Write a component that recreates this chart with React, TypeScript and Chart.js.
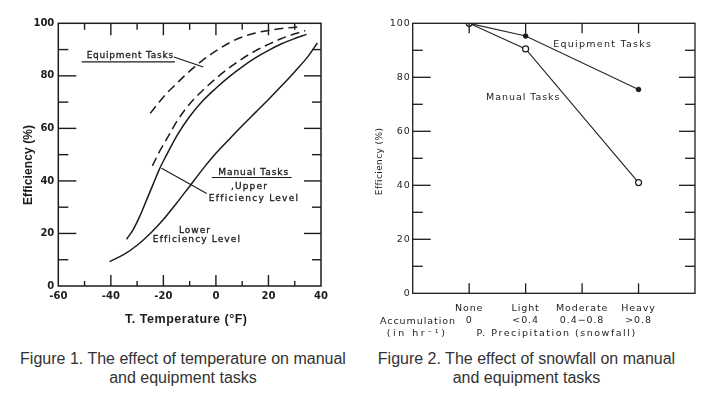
import React, { useEffect, useRef } from "react";
import { Chart, registerables } from "chart.js";

Chart.register(...registerables);

const INK = "#1c1c1c";

// ---------- Figure 1: efficiency vs temperature ----------
const tempTickLabels = [-60, -40, -20, 0, 20, 40];
const effTickLabels = [0, 20, 40, 60, 80, 100];

const lowerLevelTemp = [-40.5, -35, -30, -25, -20, -15, -10, -5, 0, 5, 10, 15, 20, 25, 30, 35, 38.6];
const lowerLevelEff = [9.3, 12, 15.5, 20, 25.3, 31.5, 38, 44.5, 50.5, 55.8, 61, 66, 71, 76.2, 81.6, 87.3, 92.5];

const upperLevelTemp = [-34, -31.5, -29, -26.5, -24, -21.5, -19, -15, -10, -5, 0, 5, 10, 15, 20, 25, 30, 34.5];
const upperLevelEff = [17.8, 21.5, 26.5, 32.5, 38.5, 44.5, 49.5, 57, 64.5, 70.5, 75.3, 79.6, 83.4, 86.8, 89.7, 92.2, 94.2, 95.8];

const equipLowTemp = [-24.2, -21.3, -18, -15, -10, -5, 0, 5, 10, 15, 20, 25, 30, 34];
const equipLowEff = [45.7, 51.5, 57.2, 62.5, 69.3, 74.5, 79, 83, 86.5, 89.5, 92, 94.2, 96, 97.2];

const equipHighTemp = [-25, -22, -18.8, -15, -12.4, -10, -5, 0, 5, 10, 15, 20, 25, 31.5];
const equipHighEff = [65.7, 69.5, 73.3, 77, 79.6, 81.8, 86, 89.5, 92.5, 94.8, 96.3, 97.3, 98, 98.6];

// ---------- Figure 2: efficiency vs snowfall ----------
const snowCategories = ["None", "Light", "Moderate", "Heavy"];
const snowAccumulation = ["0", "<0.4", "0.4\u22120.8", ">0.8"];
const manualSnow = [100, 90.5, null, 41];
const equipmentSnow = [100, 95.3, null, 75.5];

function fitText(
  ctx: CanvasRenderingContext2D,
  s: string,
  cx: number,
  cy: number,
  width: number,
  font: string,
  rotate = false,
  stroke = 0
) {
  ctx.save();
  ctx.font = font;
  (ctx as any).letterSpacing = "0px";
  const w = ctx.measureText(s).width;
  let sp = s.length > 1 ? (width - w) / (s.length - 1) : 0;
  if (sp < -1) sp = -1;
  (ctx as any).letterSpacing = sp + "px";
  ctx.textBaseline = "middle";
  ctx.textAlign = "left";
  ctx.fillStyle = INK;
  ctx.translate(cx, cy);
  if (rotate) ctx.rotate(-Math.PI / 2);
  ctx.fillText(s, -width / 2, 0);
  if (stroke > 0) {
    ctx.strokeStyle = INK;
    ctx.lineWidth = stroke;
    ctx.strokeText(s, -width / 2, 0);
  }
  ctx.restore();
}

function seg(ctx: CanvasRenderingContext2D, x1: number, y1: number, x2: number, y2: number) {
  ctx.beginPath();
  ctx.moveTo(x1, y1);
  ctx.lineTo(x2, y2);
  ctx.stroke();
}

const toPts = (xs: number[], ys: number[]) => xs.map((x, i) => ({ x, y: ys[i] }));

const fig1Decor = {
  id: "fig1Decor",
  afterDraw(chart: any) {
    const ctx: CanvasRenderingContext2D = chart.ctx;
    const { left, right, top, bottom } = chart.chartArea;
    const xs = chart.scales.x;
    const ys = chart.scales.y;
    const X = (v: number) => xs.getPixelForValue(v);
    const Y = (v: number) => ys.getPixelForValue(v);
    ctx.save();
    ctx.strokeStyle = INK;
    ctx.lineWidth = 1.5;
    ctx.strokeRect(left, top, right - left, bottom - top);
    ctx.lineWidth = 1.4;
    for (let t = -50; t <= 30; t += 10) {
      const major = t % 20 === 0;
      seg(ctx, X(t), bottom, X(t), bottom - (major ? 11 : 5));
      seg(ctx, X(t), top, X(t), top + (major ? 12 : 6.5));
    }
    for (let v = 10; v <= 90; v += 10) {
      const major = v % 20 === 0;
      seg(ctx, left, Y(v), left + (major ? 18 : 10), Y(v));
      seg(ctx, right, Y(v), right - (major ? 17 : 9), Y(v));
    }
    // leader lines and underlines
    ctx.lineWidth = 1.1;
    seg(ctx, X(-51.1), Y(85.3), X(-15.6), Y(85.3));
    seg(ctx, X(-16), Y(87.2), X(-4.8), Y(83.4));
    seg(ctx, X(-1.6), Y(41.3), X(28.8), Y(41.3));
    seg(ctx, X(-20.7), Y(44.8), X(-3.5), Y(35.2));
    ctx.restore();

    const f = "9px 'DejaVu Sans'";
    const mid = (a: number, b: number) => (X(a) + X(b)) / 2;
    const wid = (a: number, b: number) => X(b) - X(a);
    fitText(ctx, "Equipment Tasks", mid(-49.2, -16.3), Y(87.8), wid(-49.2, -16.3), f, false, 0.3);
    fitText(ctx, "Manual Tasks", mid(0.9, 27.5), Y(43.1), wid(0.9, 27.5), f, false, 0.3);
    fitText(ctx, ",Upper", mid(5.7, 19.4), Y(38.0), wid(5.7, 19.4), f, false, 0.3);
    fitText(ctx, "Efficiency Level", mid(-2.7, 31.2), Y(33.1), wid(-2.7, 31.2), f, false, 0.3);
    fitText(ctx, "Lower", mid(-14.1, -2.3), Y(21.0), wid(-14.1, -2.3), f, false, 0.3);
    fitText(ctx, "Efficiency Level", mid(-24, 9.1), Y(17.8), wid(-24, 9.1), f, false, 0.3);

    // axis titles
    fitText(ctx, "Efficiency (%)", 28.3, 165, 80, "bold 12px 'Liberation Sans'", true);
    fitText(ctx, "T. Temperature (\u00b0F)", 186, 320, 122, "bold 12.5px 'Liberation Sans'");
  },
};

function TemperatureChart() {
  const ref = useRef<HTMLCanvasElement>(null);
  useEffect(() => {
    const line = (xs: number[], ys: number[], dash: number[]) => ({
      data: toPts(xs, ys),
      showLine: true,
      borderColor: INK,
      borderWidth: 1.5,
      borderDash: dash,
      pointRadius: 0,
      fill: false,
      cubicInterpolationMode: "monotone" as const,
    });
    const chart = new Chart(ref.current!, {
      type: "scatter",
      data: {
        datasets: [
          line(lowerLevelTemp, lowerLevelEff, []),
          line(upperLevelTemp, upperLevelEff, []),
          line(equipLowTemp, equipLowEff, [9, 5]),
          line(equipHighTemp, equipHighEff, [9, 5]),
        ],
      },
      options: {
        animation: false,
        responsive: false,
        events: [],
        layout: { padding: { left: 0, top: 23.3, right: 24, bottom: 0 } },
        plugins: { legend: { display: false }, tooltip: { enabled: false } },
        scales: {
          x: {
            type: "linear",
            min: tempTickLabels[0],
            max: tempTickLabels[tempTickLabels.length - 1],
            afterFit: (s: any) => {
              s.height = 59;
            },
            grid: { display: false, drawTicks: false },
            border: { display: false },
            ticks: {
              stepSize: 20,
              autoSkip: false,
              maxRotation: 0,
              padding: 4.4,
              color: INK,
              font: { family: "'DejaVu Sans'", size: 10, weight: "bold" },
            },
          },
          y: {
            min: effTickLabels[0],
            max: effTickLabels[effTickLabels.length - 1],
            afterFit: (s: any) => {
              s.width = 58.3;
            },
            grid: { display: false, drawTicks: false },
            border: { display: false },
            ticks: {
              stepSize: 20,
              padding: 4,
              color: INK,
              font: { family: "'DejaVu Sans'", size: 10, weight: "bold" },
            },
          },
        },
      },
      plugins: [fig1Decor],
    });
    return () => chart.destroy();
  }, []);
  return (
    <canvas
      ref={ref}
      width={345}
      height={345}
      style={{ position: "absolute", left: 0, top: 0, width: 345, height: 345 }}
    />
  );
}

const fig2Decor = {
  id: "fig2Decor",
  beforeDraw(chart: any) {
    (chart.ctx as any).letterSpacing = "0.9px";
  },
  afterDraw(chart: any) {
    const ctx: CanvasRenderingContext2D = chart.ctx;
    const { left, right, top, bottom } = chart.chartArea;
    const xs = chart.scales.x;
    const ys = chart.scales.y;
    const X = (v: number) => xs.getPixelForValue(v);
    const Y = (v: number) => ys.getPixelForValue(v);
    ctx.save();
    (ctx as any).letterSpacing = "0px";
    ctx.strokeStyle = INK;
    ctx.lineWidth = 1.3;
    ctx.strokeRect(left, top, right - left, bottom - top);
    ctx.lineWidth = 1.3;
    for (let i = 1; i <= snowCategories.length; i++) {
      seg(ctx, X(i), bottom, X(i), bottom - 10);
      seg(ctx, X(i), top, X(i), top + 10);
    }
    for (let v = 10; v <= 90; v += 10) {
      const major = v % 20 === 0;
      seg(ctx, left, Y(v), left + (major ? 18 : 10), Y(v));
      seg(ctx, right, Y(v), right - (major ? 16 : 10), Y(v));
    }
    ctx.restore();

    const f = "9.5px 'DejaVu Sans'";
    const mid = (a: number, b: number) => (X(a) + X(b)) / 2;
    const wid = (a: number, b: number) => X(b) - X(a);
    fitText(ctx, "Equipment Tasks", mid(2.49, 4.22), Y(92.3), wid(2.49, 4.22), f);
    fitText(ctx, "Manual Tasks", mid(1.3, 2.6), Y(72.4), wid(1.3, 2.6), f);
    fitText(ctx, "Accumulation", mid(-0.58, 0.75), Y(-10.3), wid(-0.58, 0.75), f);
    fitText(ctx, "(in hr\u207b\u00b9)", mid(-0.46, 0.57), Y(-14.8), wid(-0.46, 0.57), f);
    fitText(ctx, "P. Precipitation (snowfall)", mid(1.13, 3.94), Y(-14.8), wid(1.13, 3.94), f);
    fitText(ctx, "Efficiency (%)", 25, 161.7, 67, "9px 'DejaVu Sans'", true);
  },
};

function SnowChart() {
  const ref = useRef<HTMLCanvasElement>(null);
  useEffect(() => {
    const labels = ["", ...snowCategories, ""];
    const chart = new Chart(ref.current!, {
      type: "line",
      data: {
        labels,
        datasets: [
          {
            data: [null, ...manualSnow, null],
            spanGaps: true,
            borderColor: "#2a2a2a",
            borderWidth: 1.2,
            pointRadius: 3,
            pointBackgroundColor: "#ffffff",
            pointBorderColor: INK,
            pointBorderWidth: 1.2,
            tension: 0,
          },
          {
            data: [null, ...equipmentSnow, null],
            spanGaps: true,
            borderColor: "#2a2a2a",
            borderWidth: 1.2,
            pointRadius: 2.3,
            pointBackgroundColor: INK,
            pointBorderColor: INK,
            pointBorderWidth: 1,
            tension: 0,
          },
        ],
      },
      options: {
        animation: false,
        responsive: false,
        events: [],
        layout: { padding: { left: 0, top: 23.3, right: 18, bottom: 0 } },
        plugins: { legend: { display: false }, tooltip: { enabled: false } },
        scales: {
          x: {
            type: "category",
            offset: false,
            afterFit: (s: any) => {
              s.height = 51.7;
            },
            grid: { display: false, drawTicks: false },
            border: { display: false },
            ticks: {
              autoSkip: false,
              maxRotation: 0,
              padding: 9.7,
              color: INK,
              font: { family: "'DejaVu Sans'", size: 9.5, lineHeight: "12px" },
              callback: (_v: any, i: number) =>
                i >= 1 && i <= snowCategories.length ? [snowCategories[i - 1], snowAccumulation[i - 1]] : "",
            },
          },
          y: {
            min: 0,
            max: 100,
            afterFit: (s: any) => {
              s.width = 57.7;
            },
            grid: { display: false, drawTicks: false },
            border: { display: false },
            ticks: {
              stepSize: 20,
              padding: 2,
              color: INK,
              font: { family: "'DejaVu Sans'", size: 9.5 },
            },
          },
        },
      },
      plugins: [fig2Decor],
    });
    return () => chart.destroy();
  }, []);
  return (
    <canvas
      ref={ref}
      width={358}
      height={345}
      style={{ position: "absolute", left: 355, top: 0, width: 358, height: 345 }}
    />
  );
}

const captionStyle: React.CSSProperties = {
  position: "absolute",
  top: 348.5,
  textAlign: "center",
  fontFamily: "'Liberation Sans', Arial, sans-serif",
  fontSize: 16,
  lineHeight: "19px",
  color: "#333",
  whiteSpace: "nowrap",
};

export default function App() {
  return (
    <div
      style={{
        position: "absolute",
        left: 0,
        top: 0,
        width: 713,
        height: 399,
        background: "#fff",
        overflow: "hidden",
      }}
    >
      <TemperatureChart />
      <SnowChart />
      <div style={{ ...captionStyle, left: 0, width: 366 }}>
        Figure 1. The effect of temperature on manual
        <br />
        and equipment tasks
      </div>
      <div style={{ ...captionStyle, left: 360, width: 333 }}>
        Figure 2. The effect of snowfall on manual
        <br />
        and equipment tasks
      </div>
    </div>
  );
}
